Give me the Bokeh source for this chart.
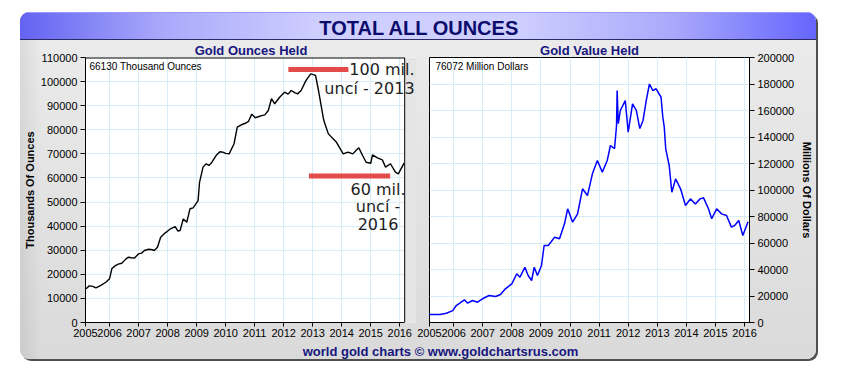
from bokeh.plotting import figure
from bokeh.layouts import row, column, Spacer
from bokeh.models import Range1d, FixedTicker, Label, ColumnDataSource, BasicTickFormatter
from bokeh.embed import file_html
from bokeh.resources import INLINE

# ---------------- data ----------------
oz_years = [2005.19, 2005.3, 2005.42, 2005.53, 2005.7, 2005.87, 2006.0, 2006.08, 2006.2, 2006.3,
            2006.42, 2006.55, 2006.64, 2006.75, 2006.86, 2007.0, 2007.1, 2007.2, 2007.35, 2007.47,
            2007.54, 2007.65, 2007.76, 2007.9, 2008.1, 2008.26, 2008.35, 2008.43, 2008.54, 2008.66,
            2008.77, 2008.88, 2009.05, 2009.1, 2009.22, 2009.33, 2009.42, 2009.5, 2009.67, 2009.8,
            2009.9, 2010.0, 2010.12, 2010.29, 2010.4, 2010.57, 2010.7, 2010.79, 2010.9, 2011.02,
            2011.15, 2011.24, 2011.35, 2011.47, 2011.58, 2011.69, 2011.86, 2012.03, 2012.15, 2012.26,
            2012.38, 2012.48, 2012.6, 2012.77, 2012.93, 2013.05, 2013.1, 2013.2, 2013.37, 2013.42,
            2013.54, 2013.82, 2014.05, 2014.22, 2014.38, 2014.5, 2014.59, 2014.72, 2014.84, 2015.0,
            2015.06, 2015.23, 2015.4, 2015.51, 2015.68, 2015.85, 2015.95, 2016.15]
ounces = [14000, 15200, 15000, 14400, 15400, 16700, 18200, 22400, 23600, 24200,
          24600, 26200, 27100, 26900, 26800, 28500, 28800, 29900, 30400, 30200,
          29900, 31250, 35400, 37000, 38900, 39800, 38000, 38200, 43000, 41600,
          47200, 47600, 50600, 58200, 64500, 65900, 65200, 66100, 69300, 70900,
          70700, 70200, 70000, 74200, 81100, 82200, 82800, 83500, 86500, 85000,
          85500, 85900, 86200, 88000, 92900, 90800, 93500, 95600, 94800, 96300,
          95400, 94900, 96300, 100500, 103200, 102800, 102500, 96300, 84600, 82500,
          78300, 74800, 70000, 70700, 70000, 71500, 72500, 69300, 66500, 66100,
          69600, 68300, 67500, 64500, 65900, 62400, 61700, 66130]

val_years = [2005.15, 2005.53, 2005.75, 2005.97, 2006.09, 2006.37, 2006.48, 2006.65, 2006.82, 2006.99,
             2007.22, 2007.44, 2007.61, 2007.78, 2008.0, 2008.17, 2008.28, 2008.45, 2008.56, 2008.68,
             2008.77, 2008.88, 2009.02, 2009.11, 2009.25, 2009.36, 2009.47, 2009.64, 2009.81, 2009.92,
             2010.09, 2010.26, 2010.43, 2010.6, 2010.77, 2010.94, 2011.11, 2011.28, 2011.39, 2011.53,
             2011.6, 2011.62, 2011.66, 2011.73, 2011.9, 2012.0, 2012.15, 2012.28, 2012.4, 2012.51,
             2012.62, 2012.73, 2012.85, 2012.96, 2013.13, 2013.19, 2013.24, 2013.29, 2013.41, 2013.5,
             2013.63, 2013.8, 2013.97, 2014.14, 2014.31, 2014.47, 2014.59, 2014.76, 2014.87, 2015.04,
             2015.21, 2015.38, 2015.55, 2015.66, 2015.8, 2015.94, 2016.12]
value_musd = [6000, 6000, 7000, 9000, 12800, 17100, 14600, 16600, 15300, 17900,
              20400, 19600, 21100, 25400, 29200, 36800, 34200, 41700, 35500, 31700,
              41700, 35500, 43000, 58100, 58100, 61100, 64400, 63200, 74500, 85800,
              75700, 82000, 100900, 95800, 112200, 122300, 113500, 122300, 133600, 131100,
              148700, 175000, 150000, 160000, 167500, 143600, 165000, 160000, 146400, 152500,
              167500, 180000, 175000, 176400, 170000, 155000, 147400, 131100, 118500, 98300,
              108400, 100900, 88300, 93300, 89500, 93300, 94100, 85800, 78300, 85800,
              82000, 80800, 72000, 73200, 77000, 65700, 76072]

year_ticks = [2005.17, 2006, 2007, 2008, 2009, 2010, 2011, 2012, 2013, 2014, 2015, 2016]
year_labels = ["2005", "2006", "2007", "2008", "2009", "2010", "2011", "2012",
               "2013", "2014", "2015", "2016"]
oz_ticks = [0, 10000, 20000, 30000, 40000, 50000, 60000, 70000, 80000, 90000, 100000, 110000]
val_ticks = [0, 20000, 40000, 60000, 80000, 100000, 120000, 140000, 160000, 180000, 200000]

# red annotation marks drawn over the left chart
note_x0 = [2012.16, 2012.87]
note_x1 = [2014.23, 2015.67]
note_y = [105000, 60800]
note_text = ["100 mil.\nuncí - 2013", "60 mil.\nuncí -\n2016"]
note_tx = [2016.51, 2015.25]
note_ty = [101100, 48000]
note_align = ["right", "center"]
note_lh = [1.0, 0.94]

X0, X1 = 2005.17, 2016.17          # visible span of each chart
XL_END = 2016.577                  # left frame runs on under the gap so notes can overflow
FONT = "Liberation Sans"
NAVY = "#16167e"
GRID = "#d9edf8"
GAP = "#e5e5e5"


def make_plot(width, x_end, y_max, y_ticks, y_loc, mbl, mbr, title, ylabel, title_offset):
    p = figure(width=width, height=303, x_range=Range1d(X0, x_end), y_range=Range1d(0, y_max),
               y_axis_location=y_loc, output_backend="svg", toolbar_location=None,
               min_border_left=mbl, min_border_right=mbr, min_border_top=16, min_border_bottom=21,
               border_fill_color=None, background_fill_color="white",
               outline_line_color="black", outline_line_width=1, title=title)
    p.title.text_font = FONT
    p.title.text_font_size = "13px"
    p.title.text_font_style = "bold"
    p.title.text_color = NAVY
    p.title.align = "center"
    p.title.standoff = 0
    p.title.offset = title_offset

    xa = p.xaxis[0]
    xa.ticker = FixedTicker(ticks=year_ticks)
    xa.major_label_overrides = dict(zip(year_ticks, year_labels))
    xa.bounds = (X0, X1)
    xa.major_tick_out = 4
    xa.major_tick_in = 0
    xa.minor_tick_line_color = None
    xa.major_label_standoff = 2
    xa.major_label_text_font = FONT
    xa.major_label_text_font_size = "11px"
    xa.major_label_text_color = "black"
    xa.axis_line_color = "black"

    ya = p.yaxis[0]
    ya.ticker = FixedTicker(ticks=y_ticks)
    ya.formatter = BasicTickFormatter(use_scientific=False)
    ya.major_tick_out = 5
    ya.major_tick_in = 0
    ya.minor_tick_line_color = None
    ya.major_label_standoff = 3
    ya.major_label_text_font = FONT
    ya.major_label_text_font_size = "11px"
    ya.major_label_text_color = "black"
    ya.axis_line_color = "black"
    ya.axis_label = ylabel
    ya.axis_label_text_font = FONT
    ya.axis_label_text_font_size = "11px"
    ya.axis_label_text_font_style = "bold"
    ya.axis_label_text_color = "black"
    ya.axis_label_standoff = 2 if y_loc == "left" else 4

    p.xgrid.grid_line_color = GRID
    p.ygrid.grid_line_color = GRID
    return p


# ---------------- left: ounces ----------------
left = make_plot(396, XL_END, 110000, oz_ticks, "left", 60, 0, "Gold Ounces Held",
                 "Thousands Of Ounces", -9)
left.outline_line_color = None
# panel-coloured strip over the part of the frame that lies in the gap
left.quad(left=[X1], right=[XL_END], bottom=[0], top=[110000],
          fill_color=GAP, line_color=None)
# visible chart border (top and right sides)
left.segment(x0=[X0], y0=[110000], x1=[X1], y1=[110000], line_color="black", line_width=2)
left.segment(x0=[X1], y0=[0], x1=[X1], y1=[110000], line_color="black", line_width=1)
left.line(x="x", y="y", source=ColumnDataSource(dict(x=oz_years, y=ounces)),
          line_color="black", line_width=1.4)
left.add_layout(Label(x=X0, y=110000, x_offset=4, y_offset=-3, text="66130 Thousand Ounces",
                      text_font=FONT, text_font_size="10px", text_color="black",
                      text_baseline="top", text_align="left"))
left.segment(x0="x0", y0="y", x1="x1", y1="y",
             source=ColumnDataSource(dict(x0=note_x0, x1=note_x1, y=note_y)),
             line_color="#e34a4a", line_width=5)
for t, tx, ty, al, lh in zip(note_text, note_tx, note_ty, note_align, note_lh):
    left.add_layout(Label(x=tx, y=ty, text=t, text_font="DejaVu Sans", text_font_size="16px",
                          text_color="#1e1e1e", text_align=al, text_baseline="middle",
                          text_line_height=lh))

# ---------------- right: value ----------------
right = make_plot(400, X1, 200000, val_ticks, "right", 13, 62, "Gold Value Held",
                  "Millions Of Dollars", 0)
right.line(x="x", y="y", source=ColumnDataSource(dict(x=val_years, y=value_musd)),
           line_color="#0000ff", line_width=1.5)
right.add_layout(Label(x=X0, y=200000, x_offset=6, y_offset=-3, text="76072 Million Dollars",
                       text_font=FONT, text_font_size="10px", text_color="black",
                       text_baseline="top", text_align="left"))


# ---------------- header and footer strips ----------------
def strip(height, y0, y1, text, size, color, ycenter, xcenter, styles=None):
    s = figure(width=796, height=height, x_range=Range1d(20, 816), y_range=Range1d(y1, y0),
               x_axis_type=None, y_axis_type=None, min_border=0, outline_line_color=None,
               border_fill_color=None, background_fill_color=None, toolbar_location=None,
               output_backend="svg", styles=styles or {})
    s.add_layout(Label(x=xcenter, y=ycenter, text=text, text_font=FONT, text_font_size=size,
                       text_font_style="bold", text_color=color,
                       text_align="center", text_baseline="middle"))
    return s


header = strip(28, 12, 40, "TOTAL ALL OUNCES", "20px", "#0c0c6c", 27, 419,
               styles={"background": "linear-gradient(to right, #6363f2 0%, #a9a9fb 18%, #cfcfff 38%, "
                                     "#cfcfff 62%, #a9a9fb 82%, #6565ff 100%)",
                       "box-shadow": "inset 0 -1px 0 #2a2a66, inset 0 1px 0 #9a9aff"})
footer = strip(16, 343, 359, "world gold charts \u00a9 www.goldchartsrus.com", "13px", NAVY,
               350.5, 440)

panel = column(header, row(left, right), footer,
               styles={"background": "linear-gradient(to right, rgba(0,0,0,0.07), rgba(0,0,0,0) 22px), "
                                     "linear-gradient(to bottom, #ececec, #dadada)",
                       "border-radius": "9px",
                       "overflow": "hidden",
                       "box-shadow": "2px 2px 0 #505050"})

page = row(Spacer(width=20), column(Spacer(height=12), panel))

open("out.html", "w").write(file_html(page, INLINE))
